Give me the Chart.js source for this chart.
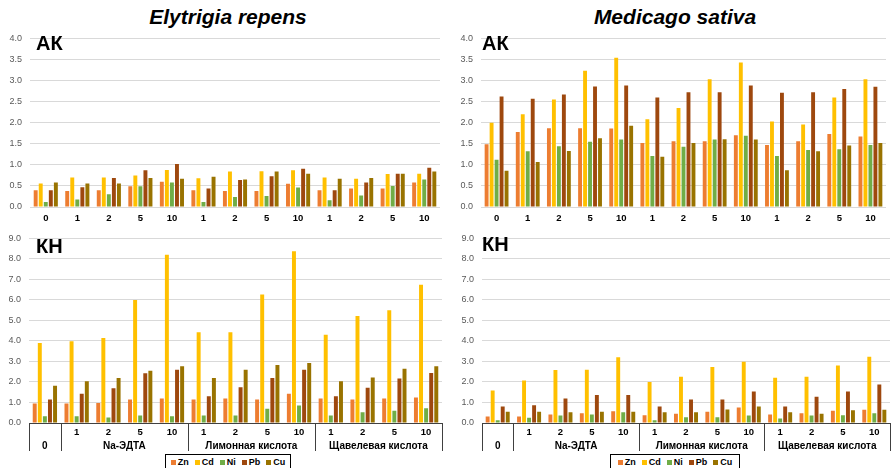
<!DOCTYPE html>
<html><head><meta charset="utf-8">
<script src="https://cdn.jsdelivr.net/npm/chart.js@4/dist/chart.umd.min.js"></script>
<style>
body{margin:0;width:893px;height:468px;position:relative;background:#fff;overflow:hidden;font-family:"Liberation Sans",Arial,sans-serif}
canvas{position:absolute}
.title{position:absolute;top:5px;font:italic bold 21px "Liberation Sans",Arial,sans-serif;color:#000;text-align:center;width:300px}
.tag{position:absolute;font:bold 20px "Liberation Sans",Arial,sans-serif;color:#000}
.legend{position:absolute;top:454px;height:15px;border:1px solid #000;box-sizing:border-box;font:bold 9px "Liberation Sans",Arial,sans-serif;display:flex;align-items:center;justify-content:center;gap:6px;padding:0 3px}
.legend span i{display:inline-block;width:5px;height:5px;margin-right:2px;vertical-align:0}
</style>
</head><body>
<div class="title" style="left:78px">Elytrigia repens</div>
<div class="title" style="left:525px">Medicago sativa</div>
<canvas id="tl" width="445" height="200" style="left:0;top:25px"></canvas>
<canvas id="tr" width="448" height="200" style="left:445px;top:25px"></canvas>
<canvas id="bl" width="445" height="228" style="left:0;top:225px"></canvas>
<canvas id="br" width="448" height="228" style="left:445px;top:225px"></canvas>
<div class="tag" style="left:36px;top:32px">АК</div>
<div class="tag" style="left:482px;top:32px">АК</div>
<div class="tag" style="left:36px;top:235px">КН</div>
<div class="tag" style="left:482px;top:233px">КН</div>
<div class="legend" id="lg1" style="left:165px;width:126px"></div>
<div class="legend" id="lg2" style="left:610px;width:130px"></div>
<script>
cats   = ['0','1','2','5','10','1','2','5','10','1','2','5','10']
metals = ['Zn','Cd','Ni','Pb','Cu']
colors = ['#ED7D31','#FFC000','#70AD47','#9E480E','#997300']
groups = [['0',0,0],['Na-ЭДТА',1,4],['Лимонная кислота',5,8],['Щавелевая кислота',9,12]]

// Elytrigia repens, AK
erAkZn = [0.40,0.38,0.40,0.49,0.60,0.40,0.38,0.38,0.55,0.40,0.44,0.44,0.58]
erAkCd = [0.56,0.70,0.70,0.75,0.88,0.68,0.84,0.85,0.87,0.70,0.67,0.78,0.79]
erAkNi = [0.12,0.18,0.30,0.49,0.58,0.12,0.24,0.26,0.46,0.16,0.27,0.50,0.65]
erAkPb = [0.40,0.47,0.69,0.87,1.02,0.44,0.64,0.73,0.91,0.40,0.58,0.79,0.93]
erAkCu = [0.58,0.56,0.56,0.69,0.67,0.72,0.65,0.84,0.79,0.67,0.69,0.79,0.84]

// Medicago sativa, AK
msAkZn = [1.49,1.78,1.87,1.87,1.86,1.52,1.56,1.56,1.70,1.47,1.56,1.73,1.67]
msAkCd = [2.00,2.20,2.55,3.23,3.54,2.08,2.35,3.03,3.43,2.03,1.96,2.60,3.03]
msAkNi = [1.12,1.32,1.44,1.55,1.60,1.21,1.43,1.60,1.69,1.21,1.35,1.37,1.47]
msAkPb = [2.62,2.57,2.67,2.86,2.88,2.60,2.72,2.72,2.88,2.71,2.72,2.80,2.85]
msAkCu = [0.86,1.07,1.33,1.63,1.93,1.19,1.52,1.61,1.60,0.87,1.32,1.46,1.52]

// Elytrigia repens, KH
erKnZn = [0.95,0.95,0.97,1.14,1.20,1.14,1.20,1.14,1.43,1.20,1.14,1.20,1.24]
erKnCd = [3.90,3.99,4.14,6.00,8.20,4.43,4.43,6.27,8.37,4.30,5.22,5.50,6.74]
erKnNi = [0.33,0.33,0.27,0.37,0.33,0.37,0.37,0.69,0.85,0.37,0.52,0.60,0.72]
erKnPb = [1.15,1.43,1.69,2.42,2.60,1.30,1.74,2.19,2.60,1.30,1.72,2.17,2.44]
erKnCu = [1.82,2.04,2.19,2.55,2.77,2.19,2.60,2.83,2.92,2.04,2.22,2.64,2.77]

// Medicago sativa, KH
msKnZn = [0.32,0.32,0.42,0.48,0.57,0.38,0.45,0.55,0.76,0.42,0.48,0.60,0.64]
msKnCd = [1.59,2.07,2.58,2.60,3.20,2.00,2.26,2.73,2.99,2.21,2.26,2.80,3.23]
msKnNi = [0.13,0.25,0.37,0.42,0.52,0.13,0.28,0.28,0.36,0.22,0.36,0.38,0.48]
msKnPb = [0.80,0.86,1.20,1.37,1.37,0.80,1.14,1.14,1.53,0.80,1.28,1.53,1.88]
msKnCu = [0.55,0.55,0.52,0.55,0.55,0.52,0.52,0.66,0.80,0.52,0.45,0.62,0.64]

groupAxis = {
    id:'groupAxis',
    afterDraw(chart){
        if(!chart.options.plugins.groupAxis.on) return
        x=chart.scales.x
        ca=chart.chartArea
        c=chart.ctx
        half=(x.getPixelForValue(1)-x.getPixelForValue(0))/2
        c.save()
        c.strokeStyle='#404040'
        c.lineWidth=1
        c.beginPath()
        c.moveTo(ca.left,Math.round(ca.bottom)+0.5)
        c.lineTo(ca.right,Math.round(ca.bottom)+0.5)
        edges=[x.getPixelForValue(0)-half]
        groups.forEach(g=>edges.push(x.getPixelForValue(g[2])+half))
        edges.forEach(e=>{
            c.moveTo(Math.round(e)+0.5,ca.bottom)
            c.lineTo(Math.round(e)+0.5,ca.bottom+28)
        })
        c.stroke()
        c.fillStyle='#000'
        c.font='bold 10px "Liberation Sans", Arial, sans-serif'
        c.textAlign='center'
        c.textBaseline='middle'
        groups.forEach(g=>{
            cx=(x.getPixelForValue(g[1])+x.getPixelForValue(g[2]))/2
            c.fillText(g[0],cx,ca.bottom+23)
        })
        c.restore()
    }
}

function plot(id,vals,max,step,grouped,yw,padTop,padRight){
    new Chart(document.getElementById(id),{
        type:'bar',
        data:{
            labels:cats,
            datasets:metals.map((m,i)=>({
                label:m,
                data:vals[i],
                backgroundColor:colors[i],
                categoryPercentage:0.8,
                barPercentage:0.78
            }))
        },
        options:{
            responsive:false,
            animation:false,
            layout:{padding:{top:padTop,right:padRight,left:0,bottom:0}},
            plugins:{legend:{display:false},tooltip:{enabled:false},groupAxis:{on:grouped}},
            scales:{
                x:{
                    grid:{display:false,drawTicks:false},
                    border:{display:false},
                    afterFit:s=>{s.height=grouped?30:18},
                    ticks:{
                        padding:grouped?4:6,
                        color:'#000',
                        font:{family:'"Liberation Sans", Arial, sans-serif',size:9.5,weight:'bold'},
                        maxRotation:0,autoSkip:false,
                        callback:(v,i)=>grouped&&i==0?'':cats[i]
                    }
                },
                y:{
                    min:0,max:max,
                    grid:{color:'#d9d9d9',drawTicks:false},
                    border:{display:false},
                    afterFit:s=>{s.width=yw},
                    ticks:{
                        stepSize:step,padding:8,
                        color:'#595959',
                        font:{family:'"Liberation Sans", Arial, sans-serif',size:9},
                        callback:v=>v.toFixed(1)
                    }
                }
            }
        },
        plugins:[groupAxis]
    })
}

plot('tl',[erAkZn,erAkCd,erAkNi,erAkPb,erAkCu],4,0.5,false,30,10,5)
plot('tr',[msAkZn,msAkCd,msAkNi,msAkPb,msAkCu],4,0.5,false,36,10,7)
plot('bl',[erKnZn,erKnCd,erKnNi,erKnPb,erKnCu],9,1,true,29,13,3)
plot('br',[msKnZn,msKnCd,msKnNi,msKnPb,msKnCu],9,1,true,37,11,3)

;['lg1','lg2'].forEach(id=>{
    document.getElementById(id).innerHTML=metals.map((m,i)=>
        '<span><i style="background:'+colors[i]+'"></i>'+m+'</span>').join('')
})
</script>
</body></html>
